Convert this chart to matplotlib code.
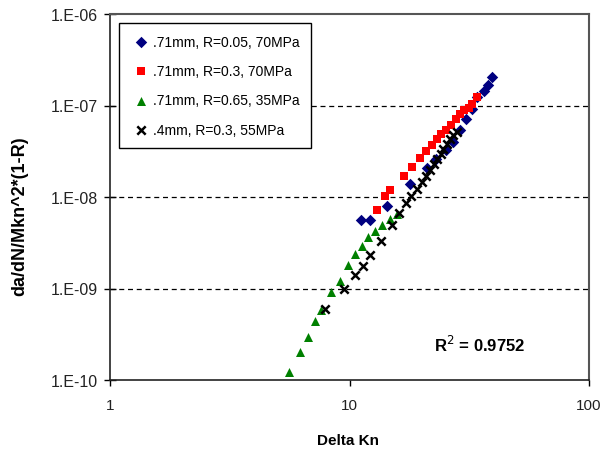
import matplotlib
matplotlib.use("Agg")
import matplotlib.pyplot as plt
from matplotlib.ticker import FixedLocator, FixedFormatter, NullLocator

plt.rcParams['font.family'] = ['Liberation Sans', 'DejaVu Sans']

# --- data ---
blue_x = [11.14, 12.18, 14.38, 17.9, 21.1, 23.0, 25.4, 27.0, 28.9, 30.6, 32.5, 34.2, 36.4, 38.0, 39.5]
blue_y = [5.6e-9, 5.6e-9, 8.04e-9, 1.38e-8, 2.06e-8, 2.6e-8, 3.27e-8, 4.02e-8, 5.44e-8, 7.18e-8,
          9.2e-8, 1.23e-7, 1.45e-7, 1.69e-7, 2.03e-7]

red_x = [12.99, 14.06, 14.76, 16.83, 18.19, 19.69, 20.85, 22.0, 23.1, 24.0, 25.3, 26.6, 27.9, 28.9,
         30.2, 31.5, 32.6, 34.0]
red_y = [7.30e-9, 1.03e-8, 1.20e-8, 1.68e-8, 2.11e-8, 2.65e-8, 3.16e-8, 3.67e-8, 4.30e-8, 4.94e-8,
         5.44e-8, 6.12e-8, 7.06e-8, 8.13e-8, 8.88e-8, 9.44e-8, 1.04e-7, 1.23e-7]

green_x = [5.59, 6.21, 6.73, 7.20, 7.58, 8.37, 9.12, 9.89, 10.54, 11.25, 11.95, 12.78, 13.63, 14.76, 15.74]
green_y = [1.22e-10, 2.02e-10, 2.97e-10, 4.41e-10, 5.82e-10, 9.1e-10, 1.22e-9, 1.81e-9, 2.38e-9,
           2.94e-9, 3.66e-9, 4.29e-9, 4.95e-9, 5.75e-9, 6.52e-9]

black_x = [7.90, 9.49, 10.54, 11.35, 12.18, 13.54, 15.0, 16.1, 17.2, 18.0, 19.1, 20.0, 20.9, 21.7,
           22.6, 23.3, 24.0, 24.6, 25.5, 26.3, 27.1, 28.0]
black_y = [5.97e-10, 1.0e-9, 1.41e-9, 1.77e-9, 2.32e-9, 3.33e-9, 4.98e-9, 6.68e-9, 8.6e-9, 1.03e-8,
           1.22e-8, 1.47e-8, 1.71e-8, 1.99e-8, 2.30e-8, 2.60e-8, 2.95e-8, 3.35e-8, 3.80e-8, 4.31e-8,
           4.76e-8, 5.13e-8]

labels = [".71mm, R=0.05, 70MPa", ".71mm, R=0.3, 70MPa", ".71mm, R=0.65, 35MPa", ".4mm, R=0.3, 55MPa"]

x_ticks = [1, 10, 100]
x_tick_labels = ["1", "10", "100"]
y_ticks = [1e-10, 1e-9, 1e-8, 1e-7, 1e-6]
y_tick_labels = ["1.E-10", "1.E-09", "1.E-08", "1.E-07", "1.E-06"]
grid_y = [1e-9, 1e-8, 1e-7]

r2_text = "R$^2$ = 0.9752"

# --- figure ---
fig = plt.figure(figsize=(6.13, 4.52), dpi=100)
ax = fig.add_axes([110/613, 1-381/452, (589-110)/613, (381-15)/452])
ax.set_xscale('log')
ax.set_yscale('log')
ax.set_xlim(1, 100)
ax.set_ylim(1e-10, 1e-6)

for gy in grid_y:
    ax.axhline(gy, color='black', lw=0.9, ls=(0, (4, 3)), zorder=1)

ax.scatter(blue_x, blue_y, marker='D', s=34, color='#000080', label=labels[0], zorder=3, linewidths=0)
ax.scatter(red_x, red_y, marker='s', s=38, color='#FF0000', label=labels[1], zorder=3, linewidths=0)
ax.scatter(green_x, green_y, marker='^', s=42, color='#008000', label=labels[2], zorder=3, linewidths=0)
ax.scatter(black_x, black_y, marker='x', s=36, color='black', label=labels[3], zorder=4, linewidths=1.8)

ax.xaxis.set_major_locator(FixedLocator(x_ticks))
ax.xaxis.set_major_formatter(FixedFormatter(x_tick_labels))
ax.yaxis.set_major_locator(FixedLocator(y_ticks))
ax.yaxis.set_major_formatter(FixedFormatter(y_tick_labels))
ax.xaxis.set_minor_locator(NullLocator())
ax.yaxis.set_minor_locator(NullLocator())

ax.tick_params(axis='x', direction='out', length=4, width=1, pad=9, labelsize=11, colors='black')
ax.tick_params(axis='y', direction='inout', length=9, width=1, pad=4, labelsize=11.5, colors='black')
ax.tick_params(axis='both', labelcolor='#222222')

for side in ['left', 'bottom']:
    ax.spines[side].set_color('#222222')
    ax.spines[side].set_linewidth(1.2)
for side in ['top', 'right']:
    ax.spines[side].set_color('#555555')
    ax.spines[side].set_linewidth(1.5)

ax.set_xlabel("Delta Kn", fontsize=11, fontweight='bold')
ax.set_ylabel("da/dN/Mkn^2*(1-R)", fontsize=13, fontweight='bold')
ax.xaxis.set_label_coords(0.496, -0.145)
ax.yaxis.set_label_coords(-0.17, 0.45)

fig.text(480/613, 1-345/452, r2_text, fontsize=12, fontweight='bold', ha='center', va='center')

leg = ax.legend(loc='upper left', bbox_to_anchor=(9/479, (381-24)/366), borderaxespad=0,
                fancybox=False, edgecolor='black', fontsize=10, labelspacing=1.1,
                handlelength=1.5, handletextpad=0.1, borderpad=0.85, scatterpoints=1,
                framealpha=1)
leg.get_frame().set_linewidth(1.0)

fig.savefig("out.png", dpi=100)
